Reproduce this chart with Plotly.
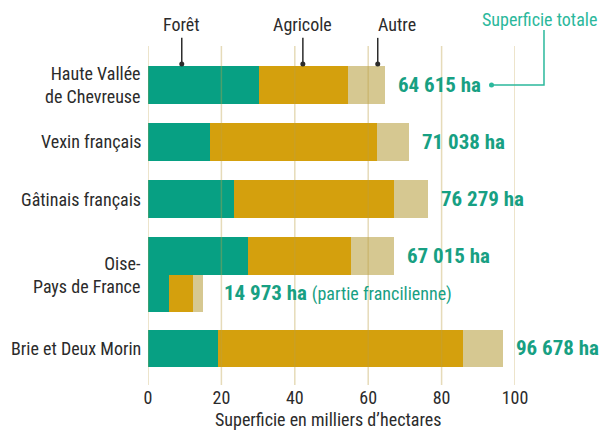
import plotly.graph_objects as go

# Parcs naturels régionaux d'Île-de-France : répartition de la superficie
regions = ["Haute Vallée<br>de Chevreuse", "Vexin français", "Gâtinais français",
           "Oise-<br>Pays de France", "", "Brie et Deux Morin"]
foret = [30.2, 16.9, 23.4, 27.2, 5.8, 19.2]        # milliers d'ha
agricole = [24.3, 45.5, 43.6, 28.1, 6.4, 66.5]     # milliers d'ha
totaux_ha = [64615, 71038, 76279, 67015, 14973, 96678]
x_ticks = [0, 20, 40, 60, 80, 100]

# vertical placement of each bar (row units); the Oise bars sit as a pair
row_pos = [0, 1.0, 2.0, 3.0, 3.65, 4.62]
bar_w = 0.65

C_FORET = "#07a083"
C_AGRI = "#d4a00d"
C_AUTRE = "#d6c891"
C_TEAL = "#17a083"
C_LINE_TEAL = "#2bb89c"
C_TEXT = "#2b2b2b"
FONT = "Liberation Sans Narrow, Roboto Condensed, Arial Narrow, Roboto, sans-serif"

totaux = [t / 1000 for t in totaux_ha]
autre = [t - f - a for t, f, a in zip(totaux, foret, agricole)]

fig = go.Figure()
for name, vals, col in [("Forêt", foret, C_FORET), ("Agricole", agricole, C_AGRI),
                        ("Autre", autre, C_AUTRE)]:
    fig.add_trace(go.Bar(x=vals, y=row_pos, orientation="h", width=bar_w,
                         marker=dict(color=col, line=dict(width=0)),
                         name=name, showlegend=False, hoverinfo="x+name"))

fig.update_layout(
    barmode="stack",
    width=600, height=430,
    margin=dict(l=148, r=85, t=46, b=45),
    plot_bgcolor="white", paper_bgcolor="white",
    font=dict(family=FONT, size=18, color=C_TEXT),
    xaxis=dict(range=[0, 100], tickvals=x_ticks, showgrid=False, zeroline=False,
               showline=False, ticks="", tickfont=dict(size=18, color=C_TEXT),
               fixedrange=True),
    yaxis=dict(range=[5.263, -0.684], visible=False, fixedrange=True),
)

# grid lines drawn over the bars
for v in x_ticks:
    fig.add_shape(type="line", xref="x", yref="paper", x0=v, x1=v, y0=0, y1=1,
                  line=dict(color="rgba(190,160,70,0.38)", width=1.5), layer="above")


def dot(xp, yp, color, r=2.5):
    fig.add_shape(type="circle", xref="paper", yref="paper",
                  xsizemode="pixel", ysizemode="pixel", xanchor=xp, yanchor=yp,
                  x0=-r, x1=r, y0=-r, y1=r,
                  line=dict(width=0), fillcolor=color)


# region labels on the left
for i, name in enumerate(regions):
    if not name:
        continue
    y = row_pos[i] if i != 3 else (row_pos[3] + row_pos[4]) / 2
    fig.add_annotation(text=name, xref="paper", x=-0.014, yref="y", y=y,
                       xanchor="right", yanchor="middle", align="right",
                       showarrow=False, font=dict(size=18, color=C_TEXT))


# total area labels
def fmt(v):
    return f"{v:,}".replace(",", " ") + " ha"


for i, t in enumerate(totaux_ha):
    if i == 4:
        txt = (f"<b>{fmt(t)}</b> <span style='font-size:18px'>(partie francilienne)</span>")
        xoff = 19
    else:
        txt = f"<b>{fmt(t)}</b>"
        xoff = 11
    fig.add_annotation(text=txt, x=totaux[i], y=row_pos[i], xref="x", yref="y",
                       xanchor="left", yanchor="middle", xshift=xoff,
                       showarrow=False, font=dict(size=21, color=C_TEAL))

# category callouts above the chart
callouts = [("Forêt", 9.2, 9.2), ("Agricole", 42.2, 42.2), ("Autre", 62.6, 67.9)]
for text, xl, xt in callouts:
    fig.add_shape(type="line", xref="paper", yref="paper", x0=xl / 100, x1=xl / 100,
                  y0=1.024, y1=0.947, line=dict(color=C_TEXT, width=1.5))
    dot(xl / 100, 0.947, C_TEXT)
    fig.add_annotation(text=text, xref="paper", yref="paper", x=xt / 100, y=1.062,
                       xanchor="center", yanchor="middle", showarrow=False,
                       font=dict(size=18, color=C_TEXT))

# "Superficie totale" callout
fig.add_shape(type="path", xref="paper", yref="paper",
              path="M 1.079 1.047 L 1.079 0.885 L 0.936 0.885",
              line=dict(color=C_LINE_TEAL, width=1.5))
dot(0.936, 0.885, C_LINE_TEAL)
fig.add_annotation(text="Superficie totale", xref="paper", yref="paper",
                   x=1.068, y=1.077, xanchor="center", yanchor="middle",
                   showarrow=False, font=dict(size=18, color=C_LINE_TEAL))

fig.add_annotation(text="Superficie en milliers d’hectares", xref="paper", yref="paper",
                   x=0.49, y=-0.103, xanchor="center", yanchor="middle",
                   showarrow=False, font=dict(size=18, color=C_TEXT))

fig.write_html("out.html")
